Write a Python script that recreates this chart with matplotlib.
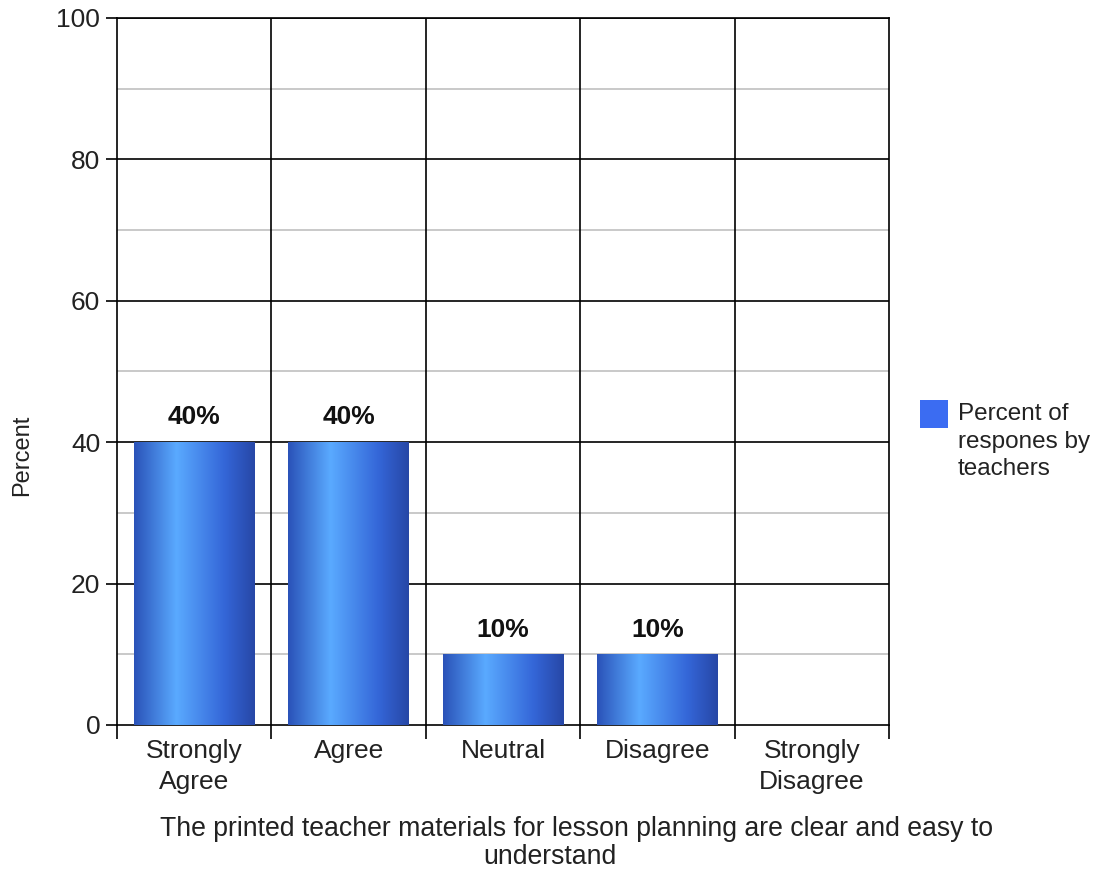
import matplotlib
matplotlib.use("Agg")
import matplotlib.pyplot as plt
import numpy as np
from matplotlib.colors import LinearSegmentedColormap
from matplotlib.patches import Rectangle

plt.rcParams['font.family'] = ['Liberation Sans', 'DejaVu Sans']

categories = ["Strongly\nAgree", "Agree", "Neutral", "Disagree", "Strongly\nDisagree"]
values = [40, 40, 10, 10, 0]
value_labels = ["40%", "40%", "10%", "10%", ""]
legend_label = "Percent of\nrespones by\nteachers"
ylabel = "Percent"
xlabel_line1 = "The printed teacher materials for lesson planning are clear and easy to"
xlabel_line2 = "understand"

W, H = 1102, 869
fig = plt.figure(figsize=(W/100, H/100), dpi=100)
ax = fig.add_axes([117/W, 1-725/H, (889-117)/W, (725-18)/H])

cmap = LinearSegmentedColormap.from_list(
    "bar", [(0.0, "#2a52b8"), (0.35, "#5aaaff"), (0.75, "#3466d8"), (1.0, "#2747a6")])
grad = np.linspace(0, 1, 256).reshape(1, -1)

x = np.arange(len(categories))
bw = 0.78
ax.set_xlim(-0.5, len(categories)-0.5)
ax.set_ylim(0, 100)

for yv in range(10, 100, 20):
    ax.axhline(yv, color="#c0c0c0", lw=1.2, zorder=1)
for yv in range(20, 101, 20):
    ax.axhline(yv, color="black", lw=1.2, zorder=1)
for xb in np.arange(0.5, len(categories)-0.5, 1):
    ax.axvline(xb, color="black", lw=1.2, zorder=1)

bars = ax.bar(x, values, width=bw, color="none", edgecolor="none", zorder=2)
for b, v, lab in zip(bars, values, value_labels):
    if v <= 0:
        continue
    x0 = b.get_x()
    im = ax.imshow(grad, cmap=cmap, aspect="auto", extent=[x0, x0+bw, 0, v],
                   zorder=3, interpolation="bicubic")
    im.set_clip_path(b)
    ax.text(b.get_x()+bw/2, v+1.8, lab, ha="center", va="bottom",
            fontsize=19, fontweight="bold", color="#111111", zorder=4)
ax.set_xlim(-0.5, len(categories)-0.5)
ax.set_ylim(0, 100)

for s in ax.spines.values():
    s.set_color("black")
    s.set_linewidth(1.2)

ax.set_yticks(range(0, 101, 20))
ax.set_yticklabels([str(v) for v in range(0, 101, 20)], fontsize=19, color="#222222")
ax.set_xticks(x)
ax.set_xticklabels(categories, fontsize=19, linespacing=1.35, color="#222222")
ax.tick_params(axis="x", length=0, pad=10)
ax.tick_params(axis="y", length=8, width=1.2, pad=4)
ax.set_xticks(np.arange(-0.5, len(categories), 1), minor=True)
ax.tick_params(axis="x", which="minor", length=10, width=1.2, direction="out")

fig.text(22/W, 1-455/H, ylabel, rotation=90, ha="center", va="center", fontsize=17, color="#222222")
fig.text(577/W, 1-829/H, xlabel_line1, ha="center", va="center", fontsize=19.2, color="#222222")
fig.text(550/W, 1-857/H, xlabel_line2, ha="center", va="center", fontsize=19.2, color="#222222")

# legend
fig.patches.append(Rectangle((920/W, 1-428/H), 28/W, 28/H, transform=fig.transFigure,
                             facecolor="#3b6cf2", edgecolor="none", figure=fig))
fig.text(958/W, 1-403/H, legend_label, ha="left", va="top", fontsize=17.5,
         linespacing=1.33, color="#222222")

fig.savefig("out.png", dpi=100)
